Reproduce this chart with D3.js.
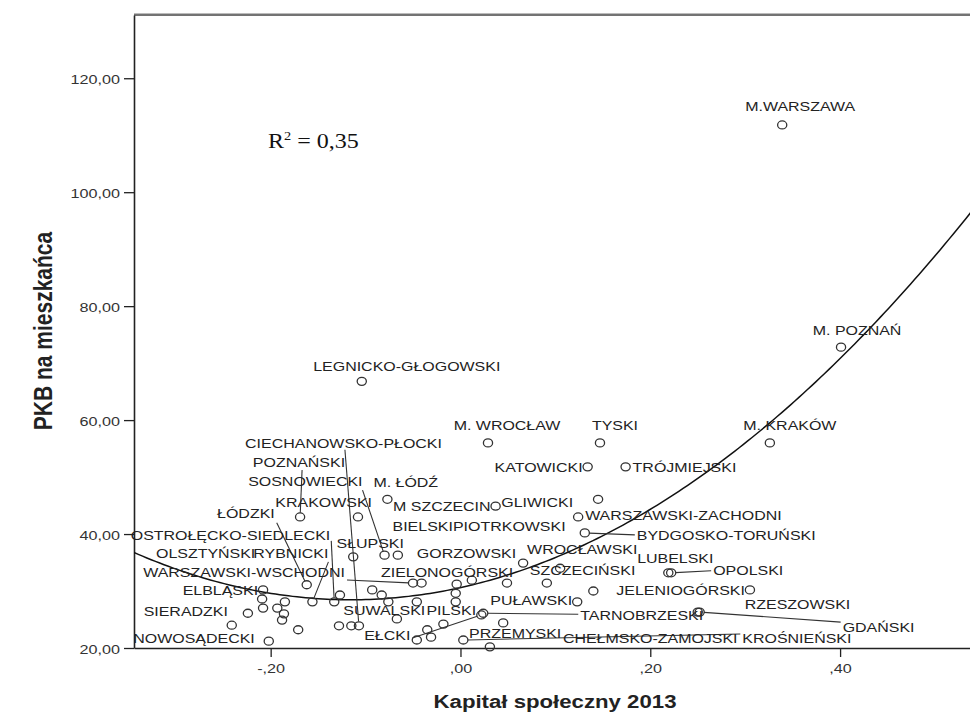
<!DOCTYPE html>
<html><head><meta charset="utf-8">
<script src="https://cdn.jsdelivr.net/npm/d3@7/dist/d3.min.js"></script>
<style>body{margin:0;background:#fff}svg{display:block}</style>
</head><body>
<svg id="chart" width="970" height="727"></svg>
<script>
// ---------- DATA ----------
const names = [
 "M.WARSZAWA","M. POZNAŃ","M. KRAKÓW","TYSKI","M. WROCŁAW","LEGNICKO-GŁOGOWSKI",
 "KATOWICKI","TRÓJMIEJSKI","GLIWICKI","WARSZAWSKI-ZACHODNI","BYDGOSKO-TORUŃSKI",
 "M. ŁÓDŹ","M SZCZECIN","KRAKOWSKI","POZNAŃSKI","ŁÓDZKI","CIECHANOWSKO-PŁOCKI",
 "SOSNOWIECKI","SŁUPSKI","OSTROŁĘCKO-SIEDLECKI","RYBNICKI","OLSZTYŃSKI",
 "WARSZAWSKI-WSCHODNI","ELBLĄSKI","SIERADZKI","NOWOSĄDECKI","GORZOWSKI",
 "ZIELONOGÓRSKI","WROCŁAWSKI","SZCZECIŃSKI","BIELSKI","PIOTRKOWSKI","LUBELSKI",
 "OPOLSKI","JELENIOGÓRSKI","PUŁAWSKI","RZESZOWSKI","GDAŃSKI","TARNOBRZESKI",
 "SUWALSKI","PILSKI","EŁCKI","PRZEMYSKI","CHEŁMSKO-ZAMOJSKI","KROŚNIEŃSKI",
 "","","","","","","","","","","","","","","","","","","","","",""
];
const kapital = [
 0.339,0.401,0.326,0.147,0.029,-0.104,
 0.134,0.174,0.145,0.124,0.131,
 -0.077,0.037,-0.108,-0.169,-0.162,-0.107,
 -0.080,-0.113,-0.133,-0.156,-0.193,
 -0.050,-0.208,-0.224,-0.202,-0.066,
 0.066,0.105,0.091,0.012,0.049,0.219,
 0.222,0.305,0.123,0.250,0.252,0.024,
 -0.115,-0.018,0.022,0.045,0.031,0.003,
 -0.209,-0.185,-0.208,-0.186,-0.188,-0.241,-0.171,-0.128,-0.093,-0.083,-0.076,
 -0.041,-0.046,-0.067,-0.004,-0.005,-0.005,-0.046,-0.035,-0.031,0.140,-0.127
];
const pkb = [
 111.8,72.8,56.0,56.0,56.0,66.8,
 51.8,51.8,46.1,43.0,40.2,
 46.1,44.9,43.0,43.0,31.1,23.9,
 36.3,36.0,28.1,28.1,27.0,
 31.4,30.2,26.1,21.2,36.3,
 34.9,34.0,31.4,31.9,31.4,33.2,
 33.2,30.2,28.1,26.3,26.3,26.1,
 23.9,24.2,25.8,24.4,20.2,21.4,
 28.6,28.1,27.0,26.0,24.9,24.0,23.2,23.9,30.2,29.3,28.1,
 31.4,28.1,25.1,31.2,29.6,28.1,21.4,23.2,21.9,30.0,29.3
];
// quadratic fit line y = a + b*x + c*x^2 (coefficients)
const fitCoefficients = [30.6, 36.85, 159.2];
const xTickValues = [-0.2, 0, 0.2, 0.4];
const yTickValues = [20, 40, 60, 80, 100, 120];
const xTitle = "Kapitał społeczny 2013";
const yTitle = "PKB na mieszkańca";
const r2Text = "0,35";

// ---------- LAYOUT (label offsets in px from point: dx, dy, anchor) ----------
const labelLayout = {
 "M.WARSZAWA":[18,-14,"middle"],"M. POZNAŃ":[16,-12,"middle"],"M. KRAKÓW":[20,-13,"middle"],
 "TYSKI":[15,-13,"middle"],"M. WROCŁAW":[19,-13,"middle"],"LEGNICKO-GŁOGOWSKI":[45,-10,"middle"],
 "KATOWICKI":[-5,5,"end"],"TRÓJMIEJSKI":[7,5,"start"],"GLIWICKI":[-25,8,"end"],
 "WARSZAWSKI-ZACHODNI":[7,3,"start"],"BYDGOSKO-TORUŃSKI":[52,7,"start"],
 "M. ŁÓDŹ":[-14,-12,"start"],"M SZCZECIN":[-5,5,"end"],"KRAKOWSKI":[14,-10,"end"],
 "POZNAŃSKI":[45,-50,"end"],"ŁÓDZKI":[-32,-67,"end"],"CIECHANOWSKO-PŁOCKI":[83,-178,"end"],
 "SOSNOWIECKI":[-22,-69,"end"],"SŁUPSKI":[17,-9,"middle"],"OSTROŁĘCKO-SIEDLECKI":[-4,-62,"end"],
 "RYBNICKI":[16,-44,"end"],"OLSZTYŃSKI":[-22,-50,"end"],"WARSZAWSKI-WSCHODNI":[-68,-6,"end"],
 "ELBLĄSKI":[-5,5,"end"],"SIERADZKI":[-20,3,"end"],"NOWOSĄDECKI":[-14,2,"end"],
 "GORZOWSKI":[19,3,"start"],"ZIELONOGÓRSKI":[-10,14,"end"],"WROCŁAWSKI":[-33,-14,"start"],
 "SZCZECIŃSKI":[-17,-8,"start"],"BIELSKI":[-19,-49,"end"],"PIOTRKOWSKI":[-54,-52,"start"],
 "LUBELSKI":[7,-10,"middle"],"OPOLSKI":[42,2,"start"],"JELENIOGÓRSKI":[-5,5,"end"],
 "PUŁAWSKI":[-5,3,"end"],"RZESZOWSKI":[47,-3,"start"],"GDAŃSKI":[143,20,"start"],
 "TARNOBRZESKI":[97,7,"start"],"SUWALSKI":[-8,-11,"start"],"PILSKI":[-17,-9,"start"],
 "EŁCKI":[-71,25,"end"],"PRZEMYSKI":[12,15,"middle"],"CHEŁMSKO-ZAMOJSKI":[73,-4,"start"],
 "KROŚNIEŃSKI":[279,3,"start"]
};
// leader line start offsets (px from point)
const leaderLayout = {
 "BYDGOSKO-TORUŃSKI":[50,2],"POZNAŃSKI":[2,-47],"ŁÓDZKI":[-30,-62],
 "CIECHANOWSKO-PŁOCKI":[-14,-176],"SOSNOWIECKI":[-22,-65],"OSTROŁĘCKO-SIEDLECKI":[-3,-61],
 "RYBNICKI":[16,-40],"WARSZAWSKI-WSCHODNI":[-66,-3],"OPOLSKI":[40,-2],"GDAŃSKI":[141,10],
 "TARNOBRZESKI":[95,1],"EŁCKI":[-69,23],"KROŚNIEŃSKI":[277,-6]
};

(function(){
const points = names.map((n,i)=>({name:n, x:kapital[i], y:pkb[i]}));

const svg = d3.select("#chart");
const SX = 1.2; // horizontal text stretch of the original image
const pL = 134, pT = 15, pB = 648;
const x = d3.scaleLinear().domain([-0.344, 0.56]).range([pL, 460.5 + 0.56*949]);
const y = d3.scaleLinear().domain([20, 131.1]).range([pB, pT]);
const font = "'Liberation Sans', Arial, sans-serif";

svg.append("defs").append("clipPath").attr("id","clip")
  .append("rect").attr("x",pL).attr("y",pT).attr("width",970-pL).attr("height",pB-pT);

svg.append("line").attr("x1",pL).attr("x2",970).attr("y1",pT-1.5).attr("y2",pT-1.5)
  .attr("stroke","#bbb").attr("stroke-width",1);
svg.append("line").attr("x1",pL).attr("x2",970).attr("y1",pT).attr("y2",pT)
  .attr("stroke","#444").attr("stroke-width",1.6);

const fmtX = v => { const s = d3.format(".2f")(Math.abs(v)).replace("0.",",").replace(".",","); return (v<0?"-":"")+s; };
const fmtY = v => d3.format(".2f")(v).replace(".",",");

const gy = svg.append("g").attr("transform",`translate(${pL},0)`)
  .call(d3.axisLeft(y).tickValues(yTickValues).tickSize(10).tickSizeOuter(0).tickFormat(fmtY));
gy.select(".domain").attr("stroke","#222").attr("stroke-width",1.6);
gy.selectAll(".tick line").attr("stroke","#222").attr("stroke-width",1.3);
gy.selectAll(".tick text").attr("x",-14/SX).attr("dy","0.4em")
  .attr("transform",`scale(${SX},1)`).attr("fill","#333")
  .style("font-family",font).style("font-size","13.5px");

const gx = svg.append("g").attr("transform",`translate(0,${pB})`)
  .call(d3.axisBottom(x).tickValues(xTickValues).tickSize(9).tickSizeOuter(0).tickFormat(fmtX));
gx.select(".domain").attr("stroke","#222").attr("stroke-width",1.6);
gx.selectAll(".tick line").attr("stroke","#222").attr("stroke-width",1.3);
gx.selectAll(".tick text").attr("y",25).attr("dy",0)
  .attr("transform",`scale(${SX},1)`).attr("fill","#333")
  .style("font-family",font).style("font-size","13.5px");

svg.append("text").attr("transform",`translate(555,708) scale(${SX},1)`)
  .attr("text-anchor","middle").style("font-family",font).style("font-weight","bold")
  .style("font-size","18.5px").attr("fill","#222").text(xTitle);
svg.append("text").attr("transform",`translate(52,331) scale(${SX},1) rotate(-90)`)
  .attr("text-anchor","middle").style("font-family",font).style("font-weight","bold")
  .style("font-size","21px").attr("fill","#222").text(yTitle);

const r2 = svg.append("text").attr("transform",`translate(268,148) scale(${SX},1)`)
  .style("font-family","'Liberation Serif','Times New Roman',serif").style("font-size","20px").attr("fill","#111");
r2.append("tspan").text("R");
r2.append("tspan").attr("dy",-8).style("font-size","12px").text("2");
r2.append("tspan").attr("dy",8).text(" = " + r2Text);

const [a,b,c] = fitCoefficients;
const dom = x.domain();
const xs = d3.range(0,201).map(i => dom[0] + i*(dom[1]-dom[0])/200);
svg.append("path").attr("clip-path","url(#clip)")
  .datum(xs.map(v=>[v, a+b*v+c*v*v]))
  .attr("fill","none").attr("stroke","#111").attr("stroke-width",1.5)
  .attr("d", d3.line().x(d=>x(d[0])).y(d=>y(d[1])));

const R = 4.3;
points.filter(p=>leaderLayout[p.name]).forEach(p=>{
  const px=x(p.x), py=y(p.y), o=leaderLayout[p.name];
  const d=Math.hypot(o[0],o[1]);
  svg.append("line").attr("x1",px+o[0]).attr("y1",py+o[1])
    .attr("x2",px+o[0]/d*R).attr("y2",py+o[1]/d*R)
    .attr("stroke","#333").attr("stroke-width",1.1);
});

svg.append("g").selectAll("ellipse").data(points).join("ellipse")
  .attr("cx",d=>x(d.x)).attr("cy",d=>y(d.y)).attr("rx",4.6).attr("ry",4)
  .attr("fill","none").attr("stroke","#333").attr("stroke-width",1.3);

svg.append("g").selectAll("text").data(points.filter(p=>p.name && labelLayout[p.name])).join("text")
  .attr("transform",d=>{const o=labelLayout[d.name]; return `translate(${x(d.x)+o[0]},${y(d.y)+o[1]}) scale(${SX},1)`;})
  .attr("text-anchor",d=>labelLayout[d.name][2])
  .style("font-family",font).style("font-size","13.3px").attr("fill","#222")
  .text(d=>d.name);
})();
</script>
</body></html>
